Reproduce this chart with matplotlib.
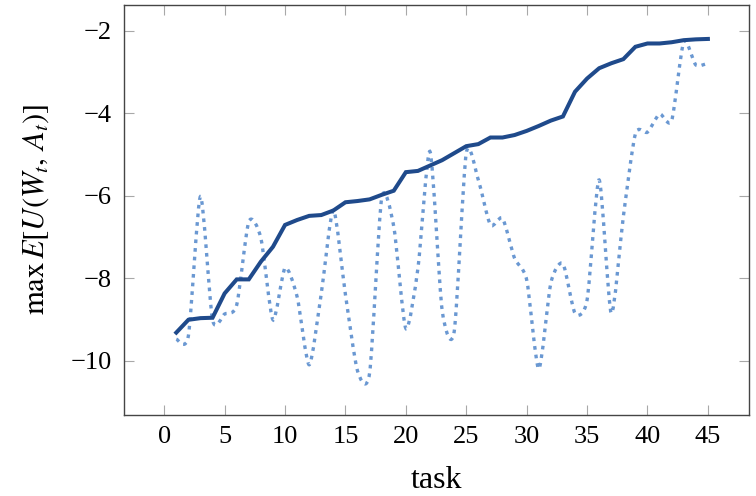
import numpy as np
import matplotlib
matplotlib.use('Agg')
import matplotlib.pyplot as plt
from matplotlib.path import Path
from matplotlib.patches import PathPatch

plt.rcParams['font.family'] = ['Liberation Serif', 'DejaVu Serif']
plt.rcParams['mathtext.fontset'] = 'stix'

task = np.arange(1, 46)

# best value found so far (solid)
best = [-9.32, -9.01, -8.97, -8.96, -8.37, -8.03, -8.03, -7.60, -7.24, -6.71,
        -6.59, -6.49, -6.47, -6.36, -6.16, -6.13, -6.09, -5.98, -5.88, -5.43,
        -5.40, -5.27, -5.14, -4.97, -4.80, -4.75, -4.59, -4.59, -4.53, -4.43,
        -4.31, -4.18, -4.08, -3.48, -3.16, -2.91, -2.79, -2.69, -2.39, -2.31,
        -2.31, -2.28, -2.23, -2.21, -2.20]

# value of each task (dotted, smoothed)
current = [-9.48, -9.40, -6.02, -9.01, -8.87, -8.65, -6.63, -7.03, -9.01, -7.75,
           -8.45, -10.10, -8.37, -6.35, -8.40, -10.25, -10.30, -6.06, -6.75, -9.22,
           -7.76, -4.93, -8.77, -9.30, -4.97, -5.62, -6.71, -6.55, -7.52, -8.04,
           -10.20, -8.12, -7.65, -8.85, -8.53, -5.62, -8.85, -6.51, -4.50, -4.46,
           -4.02, -4.18, -2.27, -2.83, -2.79]

xticks = [0, 5, 10, 15, 20, 25, 30, 35, 40, 45]
yticks = [-10, -8, -6, -4, -2]


def smooth_path(x, y, k=0.12):
    # cubic bezier through the points, like tikz "smooth"
    p = np.column_stack([x, y]).astype(float)
    n = len(p)
    verts = [p[0]]
    codes = [Path.MOVETO]
    for i in range(n - 1):
        a = p[i - 1] if i > 0 else p[i]
        d = p[i + 2] if i + 2 < n else p[i + 1]
        c1 = p[i] + k * (p[i + 1] - a)
        c2 = p[i + 1] - k * (d - p[i])
        verts += [c1, c2, p[i + 1]]
        codes += [Path.CURVE4] * 3
    return Path(verts, codes)


fig = plt.figure(figsize=(7.56, 4.96), dpi=100)
ax = fig.add_axes([0.164, 0.164, 0.8267, 0.8265])

ax.add_patch(PathPatch(smooth_path(task, current), facecolor='none',
                       edgecolor='#6a98d2', lw=2.4, linestyle=(0, (1.1, 1.5)),
                       capstyle='butt'))
ax.plot(task, best, color='#1f4a8b', lw=2.9, solid_joinstyle='miter')

ax.set_xlim(-3.33, 48.4)
ax.set_ylim(-11.31, -1.37)
ax.set_xticks(xticks)
ax.set_yticks(yticks)
ax.set_yticklabels(['\u2212' + str(abs(v)) for v in yticks])

ax.tick_params(direction='in', length=7.5, width=0.8, color='#a8a8a8',
               top=True, right=True, labelsize=19)
ax.tick_params(axis='x', pad=8)
ax.tick_params(axis='y', pad=9)
for s in ax.spines.values():
    s.set_color('#454545')
    s.set_linewidth(1.0)

ax.set_xlabel('task', fontsize=23, labelpad=13)
ax.set_ylabel(r'$\max\,E[U(W_t,\,A_t)]$', fontsize=22, labelpad=14)

fig.savefig('out.png', dpi=100)
